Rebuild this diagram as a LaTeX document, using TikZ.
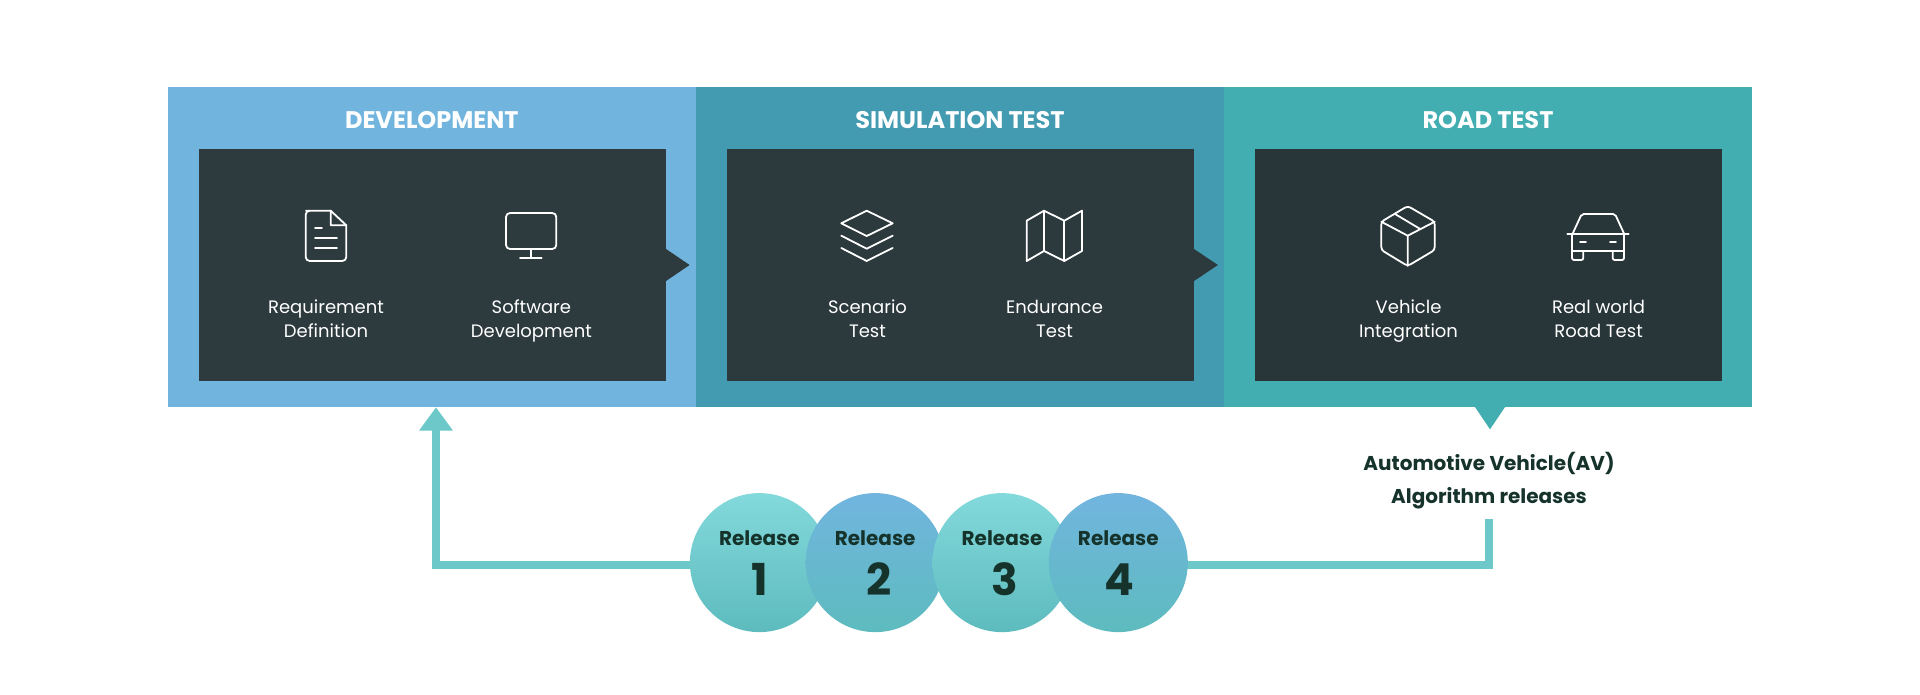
\documentclass[tikz,border=0pt]{standalone}
\usepackage{fontspec}
\setmainfont{Poppins}
\usetikzlibrary{arrows.meta,backgrounds}
\definecolor{blueP}{HTML}{71B5DF}
\definecolor{tealA}{HTML}{429BB0}
\definecolor{tealB}{HTML}{42AEB1}
\definecolor{darkA}{HTML}{2D3A3E}
\definecolor{darkB}{HTML}{2C393D}
\definecolor{darkC}{HTML}{283539}
\definecolor{flowC}{HTML}{6DC8CA}
\definecolor{inkC}{HTML}{15332B}
\definecolor{mintT}{HTML}{83D9DB}
\definecolor{skyT}{HTML}{71B5DF}
\definecolor{foot}{HTML}{5DBBBE}
\tikzset{
  panel/.style={rectangle,draw=none,inner sep=0pt,outer sep=0pt,minimum width=528.4pt,minimum height=320pt},
  inner box/.style={rectangle,draw=none,inner sep=0pt,outer sep=0pt,minimum width=467pt,minimum height=232pt},
  title text/.style={text=white,font=\fontsize{24}{28}\selectfont\bfseries,anchor=base,inner sep=0pt},
  item text/.style={text=white,font=\fontsize{18}{24}\selectfont,align=center,anchor=base,inner sep=0pt},
  icon/.style={draw=white,line width=1.8pt,line join=round,line cap=round},
  flow/.style={draw=flowC,line width=8pt},
  rel/.style={circle,draw=none,minimum size=139pt,inner sep=0pt,outer sep=0pt,bottom color=foot},
  rel mint/.style={rel,top color=mintT},
  rel sky/.style={rel,top color=skyT},
  rel word/.style={text=inkC,font=\fontsize{20}{24}\selectfont\bfseries,anchor=base,inner sep=0pt},
  rel num/.style={text=inkC,font=\fontsize{44}{48}\selectfont\bfseries,anchor=base,inner sep=0pt},
  av text/.style={text=inkC,font=\fontsize{20}{32.5}\selectfont\bfseries,align=center,anchor=base,inner sep=0pt},
}
\begin{document}
\begin{tikzpicture}[x=1pt,y=-1pt]
\useasboundingbox (0,0) rectangle (1920,695);
% panels
\node[panel,fill=blueP] (pDev) at (431.9,247) {};
\node[panel,fill=tealA] (pSim) at (960,247) {};
\node[panel,fill=tealB] (pRoad) at (1488,247) {};
\fill[tealB] (1474.3,406) -- (1505.7,406) -- (1490,429.3) -- cycle;
% inner boxes
\node[inner box,fill=darkA] (bDev) at (432.5,265.3) {};
\node[inner box,fill=darkB] (bSim) at (960.5,265.3) {};
\node[inner box,fill=darkC] (bRoad) at (1488.5,265.3) {};
\fill[darkA] (665,248.3) -- (689.6,265) -- (665,281.7) -- cycle;
\fill[darkB] (1193,248.3) -- (1217.9,265) -- (1193,281.7) -- cycle;
% titles
\node[title text] (tDev) at (431.8,128.8) {DEVELOPMENT};
\node[title text] (tSim) at (960,128.8) {SIMULATION TEST};
\node[title text] (tRoad) at (1488,128.8) {ROAD TEST};
% item labels
\node[item text] (i1) at (326,337.5) {Requirement\\Definition};
\node[item text] (i2) at (531.4,337.5) {Software\\Development};
\node[item text] (i3) at (867.5,337.5) {Scenario\\Test};
\node[item text] (i4) at (1054.6,337.5) {Endurance\\Test};
\node[item text] (i5) at (1408.6,337.5) {Vehicle\\Integration};
\node[item text] (i6) at (1598.6,337.5) {Real world\\Road Test};
% document icon
\draw[icon,rounded corners=4pt] (330.7,210.7) -- (310,210.7) -- (305.7,210.7) -- (305.7,261) -- (346.3,261) -- (346.3,225.3);
\draw[icon] (346.3,225.3) -- (330.7,210.7) -- (330.7,225.3) -- cycle;
\draw[icon] (315,228.3) -- (322,228.3) (315,238.3) -- (337,238.3) (315,248.3) -- (337,248.3);
% monitor icon
\draw[icon,rounded corners=4pt] (506,213) rectangle (556.3,249);
\draw[icon] (530.7,249) -- (530.7,258.3) (520,258.3) -- (541.7,258.3);
% layers icon
\draw[icon] (866.7,210.7) -- (892.7,223.3) -- (866.7,236) -- (841.3,223.3) -- cycle;
\draw[icon] (841.3,235.7) -- (866.7,248.7) -- (892.7,235.7);
\draw[icon] (841.3,248) -- (866.7,261) -- (892.7,248);
% map icon
\draw[icon] (1026.7,220.7) -- (1044,210.7) -- (1064.3,220.7) -- (1082,210.7) -- (1082,251) -- (1064.3,261) -- (1044,251) -- (1026.7,261) -- cycle;
\draw[icon] (1044,210.7) -- (1044,251) (1064.3,220.7) -- (1064.3,261);
% package icon
\draw[icon,rounded corners=3pt] (1407.7,206) -- (1434.7,221.7) -- (1434.7,250) -- (1407.7,266) -- (1381.3,250) -- (1381.3,221.7) -- cycle;
\draw[icon] (1381.3,221.7) -- (1407.7,235.7) -- (1434.7,221.7) (1407.7,235.7) -- (1407.7,266) (1395,214) -- (1420.7,229.3);
% car icon
\draw[icon,rounded corners=2pt] (1572.7,233.5) -- (1581.7,214) -- (1615,214) -- (1624,233.5);
\draw[icon] (1567.3,233.7) -- (1628.7,233.7) (1572,233.7) -- (1572,251) -- (1624,251) -- (1624,233.7);
\draw[icon,rounded corners=2pt] (1572,251) -- (1572,260) -- (1583.3,260) -- (1583.3,251);
\draw[icon,rounded corners=2pt] (1612.7,251) -- (1612.7,260) -- (1624,260) -- (1624,251);
\draw[icon] (1580,242.3) -- (1586,242.3) (1610,242.3) -- (1616,242.3);
% release circles
\node[rel mint] (c1) at (759.4,562.6) {};
\node[rel sky] (c2) at (875.2,562.6) {};
\node[rel mint] (c3) at (1002,562.6) {};
\node[rel sky] (c4) at (1118.3,562.6) {};
\node[rel word] (w1) at (759.4,545.5) {Release};
\node[rel word] (w2) at (875.2,545.5) {Release};
\node[rel word] (w3) at (1002,545.5) {Release};
\node[rel word] (w4) at (1118.3,545.5) {Release};
\node[rel num] (n1) at (759.5,595.5) {1};
\node[rel num] (n2) at (879.5,595.5) {2};
\node[rel num] (n3) at (1004.5,595.5) {3};
\node[rel num] (n4) at (1119.5,595.5) {4};
% AV label
\node[av text] (av) at (1489,503.2) {Automotive Vehicle(AV)\\Algorithm releases};
\coordinate (avTail) at (1489,519.3);
\coordinate (devIn) at (436,407.3);
% connectors behind the circles
\begin{scope}[on background layer]
\draw[flow,-{Triangle[width=32.4pt,length=23.4pt]}] ([yshift=-2.4pt]c1.center) -| (devIn);
\draw[flow] ([yshift=-2.4pt]c4.center) -| (avTail);
\end{scope}
\end{tikzpicture}
\end{document}
